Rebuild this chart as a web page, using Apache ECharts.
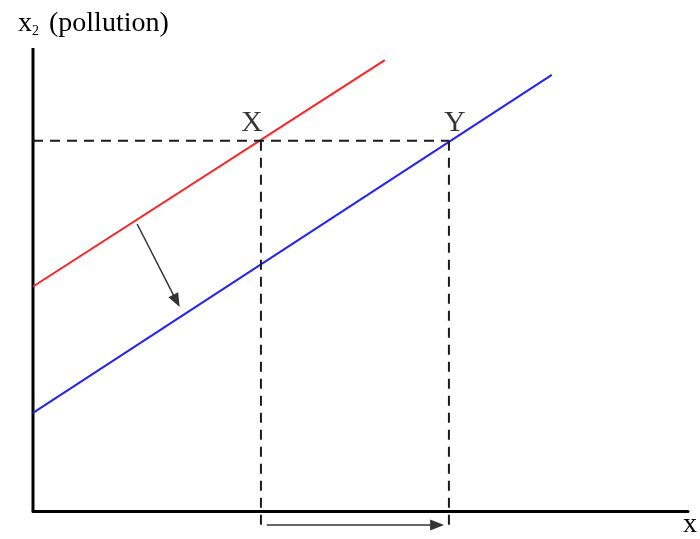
<!DOCTYPE html>
<html style="height: 100%">
<head>
    <meta charset="utf-8">
    <script type="text/javascript" src="https://cdn.jsdelivr.net/npm/echarts@6/dist/echarts.min.js"></script>
</head>
<body style="height: 100%; margin: 0; background: #fff">
<div id="container" style="width: 700px; height: 539px"></div>
<script type="text/javascript">
    // lines (x1 on 0..10, x2 on 0..10)
    var redLine = [[0, 4.85], [5.37, 9.74]];
    var blueLine = [[0, 2.12], [7.92, 9.42]];
    var pollutionLevel = 8.0;
    var pointX = [3.48, 8.0];
    var pointY = [6.35, 8.0];
    var dashBottom = -0.3;
    // arrow ends sit at the middle of the triangle head
    var shiftArrow = [[1.59, 6.2], [2.19, 4.54]];
    var moveArrow = [[3.57, -0.3], [6.17, -0.3]];
    var yAxisTop = 10;

    var serif = '"Liberation Serif", "DejaVu Serif", serif';
    var dash = {color: '#1a1a1a', width: 2, type: [10, 7]};

    var dom = document.getElementById("container");
    var myChart = echarts.init(dom);
    var option = {
        animation: false,
        title: {
            text: 'x{sub|2} (pollution)',
            left: 13,
            top: 5,
            textStyle: {
                fontFamily: serif,
                fontSize: 28,
                fontWeight: 'normal',
                color: '#000',
                rich: {
                    sub: {fontFamily: serif, fontSize: 14, verticalAlign: 'bottom', padding: [14, 3, 0, 0], color: '#000'}
                }
            }
        },
        grid: {left: 33, right: 12, top: 48, bottom: 2},
        xAxis: {
            type: 'value', min: 0, max: 10,
            name: 'x',
            nameLocation: 'end',
            nameGap: -5,
            nameTextStyle: {fontFamily: serif, fontSize: 28, color: '#000', align: 'left', verticalAlign: 'top', padding: [0, 0, 0, 0]},
            axisLine: {onZero: true, lineStyle: {color: '#000', width: 3}},
            axisTick: {show: false},
            axisLabel: {show: false},
            splitLine: {show: false}
        },
        yAxis: {
            type: 'value', min: -0.5, max: 10,
            axisLine: {show: false},
            axisTick: {show: false},
            axisLabel: {show: false},
            splitLine: {show: false}
        },
        series: [
            {
                name: 'y axis', type: 'line', symbol: 'none', silent: true,
                data: [[0, 0], [0, yAxisTop]],
                lineStyle: {color: '#000', width: 3}
            },
            {
                name: 'before', type: 'line', symbol: 'none',
                data: redLine,
                lineStyle: {color: '#f22', width: 2}
            },
            {
                name: 'after', type: 'line', symbol: 'none',
                data: blueLine,
                lineStyle: {color: '#22f', width: 2}
            },
            {
                name: 'level', type: 'line', symbol: 'none',
                data: [[0, pollutionLevel], [pointY[0], pollutionLevel]],
                lineStyle: dash
            },
            {
                name: 'dropX', type: 'line', symbol: 'none',
                data: [[pointX[0], pollutionLevel], [pointX[0], dashBottom]],
                lineStyle: dash
            },
            {
                name: 'dropY', type: 'line', symbol: 'none',
                data: [[pointY[0], pollutionLevel], [pointY[0], dashBottom]],
                lineStyle: dash,
                markLine: {
                    silent: true,
                    symbol: ['none', 'triangle'],
                    symbolSize: [11, 14],
                    label: {show: false},
                    lineStyle: {color: '#333', width: 1.5, type: 'solid'},
                    data: [
                        [{coord: shiftArrow[0]}, {coord: shiftArrow[1]}],
                        [{coord: moveArrow[0]}, {coord: moveArrow[1]}]
                    ]
                }
            },
            {
                name: 'points', type: 'scatter', symbolSize: 0,
                data: [
                    {value: pointX, name: 'X', label: {offset: [-9, 0]}},
                    {value: pointY, name: 'Y', label: {offset: [6, 0]}}
                ],
                label: {
                    show: true, position: 'top', distance: 3,
                    formatter: '{b}',
                    fontFamily: serif, fontSize: 30, color: '#000'
                }
            }
        ]
    };
    myChart.setOption(option, true);
</script>
</body>
</html>
